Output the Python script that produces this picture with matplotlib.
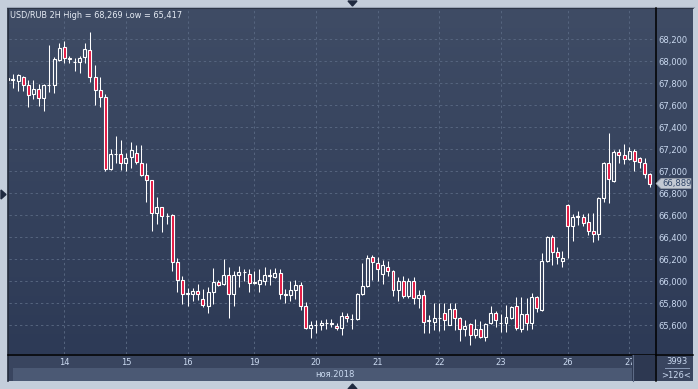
import numpy as np
import matplotlib
matplotlib.use('Agg')
import matplotlib.pyplot as plt
from matplotlib.patches import Rectangle, Polygon

symbol = 'USD/RUB 2H'
opens = [67852, 67834, 67818, 67855, 67782, 67700, 67745, 67664, 67782, 67782,
         68015, 68127, 68027, 67997, 67997, 68036, 68100, 67861, 67740, 67673,
         67024, 67158, 67155, 67073, 67127, 67164, 67073, 66964, 66918, 66624,
         66673, 66591, 66600, 66173, 66015, 65888, 65882, 65909, 65839, 65773,
         65906, 65991, 65973, 66055, 65882, 66055, 66088, 66070, 65982, 65979,
         66003, 66055, 66042, 66073, 65882, 65876, 65918, 65964, 65773, 65573,
         65603, 65600, 65618, 65618, 65597, 65573, 65685, 65661, 65658, 65882,
         65958, 66218, 66167, 66064, 66130, 66091, 65918, 66000, 65870, 66000,
         65845, 65873, 65640, 65633, 65664, 65712, 65600, 65751, 65669, 65570,
         65609, 65509, 65564, 65491, 65618, 65709, 65618, 65618, 65664, 65773,
         65564, 65700, 65624, 65855, 65740, 66182, 66400, 66270, 66182, 66691,
         66503, 66582, 66585, 66536, 66455, 66427, 66755, 67073, 66915, 67173,
         67145, 67109, 67182, 67118, 67073, 66976]
highs = [67858, 67882, 67882, 67867, 67830, 67830, 67791, 67794, 68148, 68039,
         68164, 68185, 68052, 68033, 68049, 68164, 68269, 67967, 67858, 67700,
         67200, 67321, 67285, 67164, 67267, 67240, 67240, 67073, 66921, 66764,
         66676, 66618, 66612, 66209, 66052, 65937, 65942, 65973, 65930, 65945,
         66118, 66015, 66203, 66127, 66094, 66136, 66109, 66115, 66097, 66109,
         66127, 66112, 66121, 66112, 65930, 66006, 66009, 65991, 65815, 65639,
         65649, 65652, 65661, 65658, 65621, 65724, 65709, 65700, 65891, 66164,
         66242, 66239, 66218, 66194, 66185, 66100, 66042, 66052, 66033, 66042,
         65924, 65921, 65694, 65800, 65800, 65800, 65800, 65800, 65678, 65648,
         65624, 65655, 65637, 65618, 65776, 65727, 65706, 65785, 65776, 65855,
         65855, 65846, 65891, 65867, 66255, 66409, 66421, 66312, 66276, 66700,
         66609, 66639, 66609, 66618, 66618, 66770, 67082, 67348, 67197, 67200,
         67245, 67218, 67200, 67130, 67121, 66988]
lows = [67827, 67755, 67727, 67733, 67588, 67658, 67597, 67546, 67724, 67715,
        68006, 67988, 67985, 67915, 67891, 67988, 67815, 67603, 67588, 67006,
        67009, 67073, 67012, 67006, 67033, 67064, 66961, 66718, 66461, 66521,
        66452, 66524, 66097, 65906, 65797, 65776, 65821, 65833, 65770, 65715,
        65791, 65955, 65970, 65664, 65773, 65949, 66006, 65906, 65979, 65906,
        65967, 65967, 66027, 65839, 65800, 65821, 65836, 65739, 65567, 65482,
        65533, 65555, 65564, 65585, 65555, 65512, 65633, 65567, 65649, 65876,
        65952, 66012, 66003, 65973, 66052, 65870, 65821, 65852, 65852, 65791,
        65761, 65527, 65527, 65557, 65548, 65557, 65600, 65557, 65460, 65503,
        65417, 65488, 65482, 65461, 65612, 65588, 65536, 65542, 65655, 65558,
        65536, 65558, 65567, 65724, 65734, 66173, 66149, 66161, 66133, 66215,
        66370, 66512, 66503, 66421, 66361, 66379, 66724, 66715, 66906, 67079,
        67064, 67103, 67003, 67027, 66942, 66861]
closes = [67833, 67838, 67873, 67785, 67691, 67749, 67664, 67782, 67785, 68021,
          68124, 68027, 68024, 67994, 68027, 68109, 67861, 67736, 67673, 67024,
          67158, 67155, 67073, 67124, 67191, 67082, 66964, 66918, 66624, 66673,
          66591, 66594, 66173, 66015, 65888, 65891, 65909, 65882, 65782, 65900,
          65991, 65964, 66055, 65882, 66055, 66088, 66085, 65982, 65994, 66009,
          66055, 66052, 66079, 65882, 65879, 65918, 65964, 65773, 65573, 65603,
          65606, 65618, 65621, 65615, 65579, 65682, 65670, 65658, 65882, 65958,
          66212, 66173, 66109, 66145, 66094, 65918, 66000, 65870, 66003, 65845,
          65873, 65633, 65646, 65664, 65670, 65648, 65751, 65664, 65567, 65597,
          65509, 65567, 65491, 65609, 65709, 65649, 65621, 65673, 65764, 65573,
          65700, 65624, 65855, 65755, 66182, 66400, 66264, 66218, 66209, 66500,
          66582, 66594, 66533, 66455, 66427, 66758, 67073, 66927, 67173, 67145,
          67109, 67182, 67097, 67082, 66979, 66889]

day_labels = ['13', '14', '15', '16', '19', '20', '21', '22', '23', '26', '27']
bars_per_day = [11, 12, 12, 13, 12, 12, 12, 12, 13, 12, 5]
price_ticks = list(range(65600, 68201, 200))
month_label = 'ноя.2018'
scroll_info = ['3993', '>126<']

# ---------------------------------------------------------------- layout
W, H = 698, 389
fig = plt.figure(figsize=(W / 100, H / 100), dpi=100)
fig.patch.set_facecolor('#c4cedb')

FRAME_DARK = '#232b3b'
TXT = '#cad9f0'
RED = '#e3143e'

bg = fig.add_axes([0, 0, 1, 1], zorder=0)
bg.axis('off')
grad = np.linspace(0, 1, 256)[:, None, None]
c_top = np.array([63, 76, 101]) / 255
c_bot = np.array([45, 58, 86]) / 255
img = c_top[None, None, :] * (1 - grad) + c_bot[None, None, :] * grad
img = np.repeat(img, 2, axis=1)
bg.imshow(img, extent=(8, 693, 354, 8), aspect='auto', zorder=0, interpolation='bilinear')
bg.add_patch(Rectangle((8, 354), 685, 27, color='#39455f', zorder=1, lw=0))
bg.add_patch(Rectangle((13, 368), 619, 13, color='#4b5974', zorder=1, lw=0))
bg.plot([8, 8], [8, 381], color=FRAME_DARK, lw=1.2, zorder=3)
bg.plot([8, 693], [8, 8], color=FRAME_DARK, lw=1.2, zorder=3)
bg.plot([7, 694], [6.5, 6.5], color='#9aa5b6', lw=0.8, zorder=3)
bg.plot([655.5, 655.5], [8, 381], color='black', lw=1.1, zorder=3)
bg.plot([8, 693], [354.5, 354.5], color='black', lw=1.1, zorder=3)
bg.add_patch(Polygon([(348, 1), (357, 1), (352.5, 6)], closed=True, color='#1f2a40', zorder=3))
bg.add_patch(Polygon([(348, 389), (357, 389), (352.5, 384)], closed=True, color='#1f2a40', zorder=3))
bg.add_patch(Polygon([(1, 190), (1, 199), (6, 194.5)], closed=True, color='#1f2a40', zorder=3))
bg.text(335, 374.5, month_label, color=TXT, fontsize=6, ha='center', va='center', zorder=4)
bg.text(677, 361.5, scroll_info[0], color=TXT, fontsize=6, ha='center', va='center', zorder=4)
bg.plot([665, 689], [368, 368], color='#8a9ab6', lw=0.7, zorder=4)
bg.text(676, 375.5, scroll_info[1], color=TXT, fontsize=6, ha='center', va='center', zorder=4)
bg.text(10, 15, f"{symbol} High = {max(highs):,} Low = {min(lows):,}", color='#e6ecf5',
        fontsize=5.9, ha='left', va='center', zorder=4)
bg.set_xlim(0, W)
bg.set_ylim(H, 0)

# ---------------------------------------------------------------- chart
L, T, R, B = 9, 9, 655, 354
ax = fig.add_axes([L / W, 1 - B / H, (R - L) / W, (B - T) / H], zorder=1)
ax.set_facecolor('none')
for s in ax.spines.values():
    s.set_visible(False)

n = len(opens)
x = np.arange(n)
o = np.array(opens, float); c = np.array(closes, float)
hi = np.array(highs, float); lo = np.array(lows, float)
body_lo = np.minimum(o, c); body_hi = np.maximum(o, c)
bear = c < o

ax.vlines(x, lo, body_lo, color='white', lw=0.75, zorder=3)
ax.vlines(x, body_hi, hi, color='white', lw=0.75, zorder=3)
ax.bar(x, body_hi - body_lo, bottom=body_lo, width=0.58,
       color=np.where(bear, RED, 'none'), edgecolor='white', linewidth=0.8, zorder=4)

day_starts = np.cumsum(bars_per_day)[:-1]
ax.set_xticks(day_starts)
ax.set_xticklabels(day_labels[1:])
ax.set_yticks(price_ticks)
ax.set_yticklabels([f'{v:,}' for v in price_ticks])
ax.yaxis.tick_right()
ax.tick_params(axis='y', length=0, pad=2.5, labelsize=6, labelcolor=TXT)
ax.tick_params(axis='x', length=0, pad=3.2, labelsize=6, labelcolor=TXT)
ax.grid(True, color='#56657f', linestyle=(0, (2.4, 3.0)), linewidth=0.7, zorder=1)
ax.set_axisbelow(True)

px = 5.136
ax.set_xlim(11 - 55.3 / px, 11 - 55.3 / px + (R - L) / px)
ppx = 200 / 22.0
ax.set_ylim(68200 - (B - 39.3) * ppx, 68200 + (39.3 - T) * ppx)

# ---------------------------------------------------------------- overlay
ov = fig.add_axes([0, 0, 1, 1], zorder=5)
ov.axis('off')
ov.set_xlim(0, W)
ov.set_ylim(H, 0)
ov.add_patch(Rectangle((632, 355), 23, 26, color='#2d3851', lw=0))
ov.plot([632.5, 632.5], [355, 381], color='#5d6b86', lw=0.8)
fig.canvas.draw()
yl = H - ax.transData.transform((0, closes[-1]))[1]
ov.add_patch(Polygon([(656, yl), (661, yl - 5), (691, yl - 5), (691, yl + 5), (661, yl + 5)],
                     closed=True, facecolor='#c3c9d3', edgecolor='#9aa3b0', lw=0.5))
ov.text(662, yl + 0.3, f'{closes[-1]:,}', color='#2f4466', fontsize=6, ha='left', va='center')

fig.savefig('out.png', dpi=100, facecolor=fig.get_facecolor())
